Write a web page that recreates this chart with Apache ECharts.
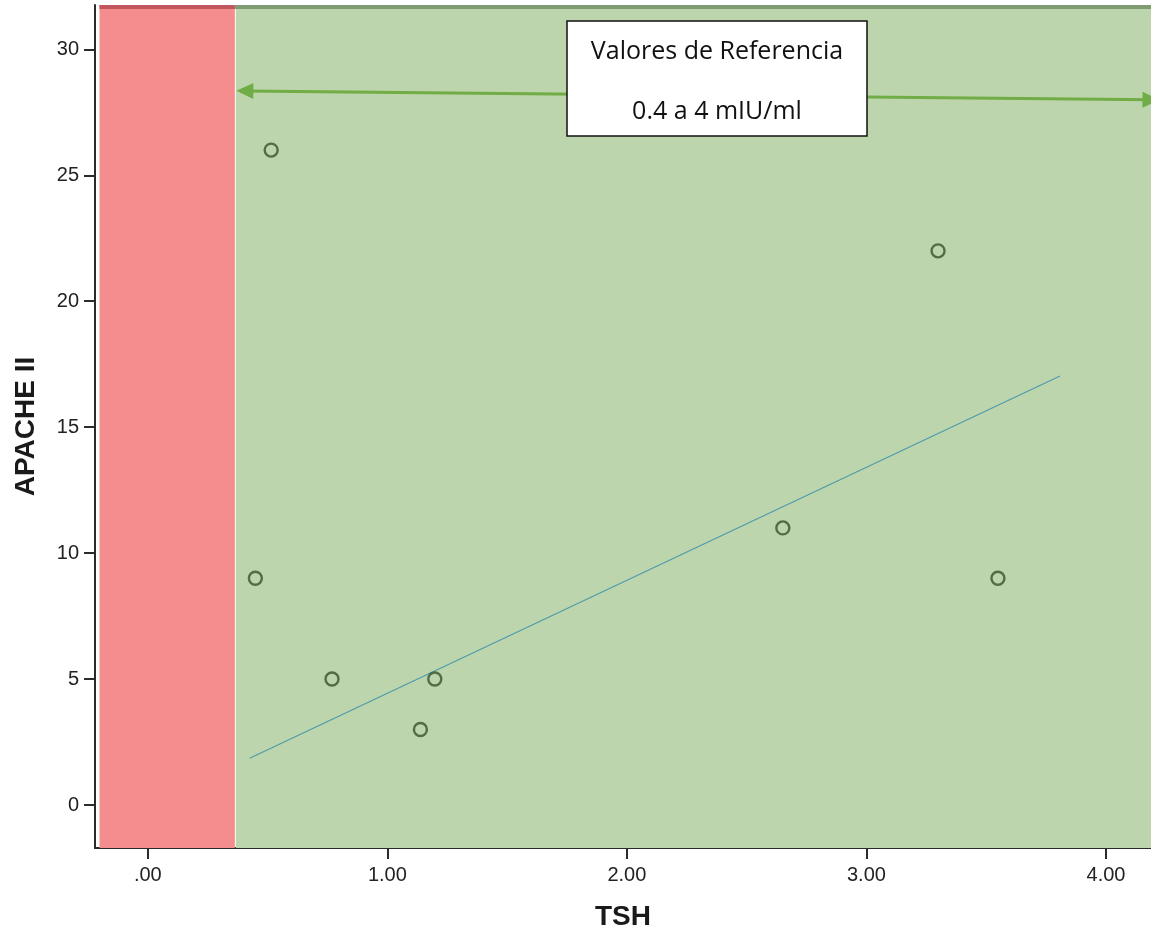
<!DOCTYPE html>
<html>
<head>
<meta charset="utf-8">
<script src="https://cdn.jsdelivr.net/npm/echarts@6/dist/echarts.min.js"></script>
<style>
  html, body { margin: 0; padding: 0; background: #ffffff; }
  #chart { width: 1151px; height: 934px; }
</style>
</head>
<body>
<div id="chart"></div>
<script>
// TSH vs APACHE II scatter, with the reference range shaded
const tshValues = [0.515, 0.449, 0.769, 1.138, 1.198, 2.651, 3.299, 3.549];
const apacheValues = [26, 9, 5, 3, 5, 11, 22, 9];

// Fit line end points (TSH, APACHE II)
const fitLineX = [0.425, 3.808];
const fitLineY = [1.854, 17.03];

const xTicks = [0, 1, 2, 3, 4];
const yTicks = [0, 5, 10, 15, 20, 25, 30];

// Axis extents
const xRange = [-0.2205, 4.188];
const yRange = [-1.707, 31.76];

// Shaded bands along TSH
const lowBand = [-0.2017, 0.3634];
const refBand = [0.3676, 4.188];

// Reference-range arrow (TSH, APACHE II at each end)
const arrowStart = [0.405, 28.35];
const arrowEnd = [4.188, 28.0];

const refTitle = 'Valores de Referencia';
const refRange = '0.4 a 4 mIU/ml';

const points = tshValues.map((x, i) => [x, apacheValues[i]]);
const fitLine = fitLineX.map((x, i) => [x, fitLineY[i]]);

const chart = echarts.init(document.getElementById('chart'), null, { renderer: 'canvas' });

const axisFont = 'Liberation Sans, Arial, sans-serif';
const boxFont = 'Open Sans, Lato, sans-serif';

chart.setOption({
  animation: false,
  backgroundColor: '#ffffff',
  grid: { left: 95, right: 0, top: 5, bottom: 86, containLabel: false, outerBoundsMode: 'none' },
  xAxis: {
    type: 'value',
    min: xRange[0],
    max: xRange[1],
    name: 'TSH',
    nameLocation: 'middle',
    nameGap: 55,
    nameTextStyle: { fontFamily: axisFont, fontSize: 28, fontWeight: 'bold', color: '#1a1a1a' },
    axisLine: { show: true, onZero: false, lineStyle: { color: '#2b2b2b', width: 2 } },
    axisTick: { show: true, length: 11, customValues: xTicks, lineStyle: { color: '#2b2b2b', width: 2 } },
    axisLabel: {
      customValues: xTicks,
      margin: 17,
      fontFamily: axisFont,
      fontSize: 20,
      color: '#222',
      formatter: v => v.toFixed(2).replace(/^0/, '')
    },
    splitLine: { show: false }
  },
  yAxis: {
    type: 'value',
    min: yRange[0],
    max: yRange[1],
    name: 'APACHE II',
    nameLocation: 'middle',
    nameGap: 55,
    nameRotate: 90,
    nameTextStyle: { fontFamily: axisFont, fontSize: 28, fontWeight: 'bold', color: '#1a1a1a' },
    axisLine: { show: true, onZero: false, lineStyle: { color: '#2b2b2b', width: 2 } },
    axisTick: { show: true, length: 11, customValues: yTicks, lineStyle: { color: '#2b2b2b', width: 2 } },
    axisLabel: {
      customValues: yTicks,
      margin: 16,
      fontFamily: axisFont,
      fontSize: 20,
      color: '#222'
    },
    splitLine: { show: false }
  },
  series: [
    {
      // background bands, top rim and the reference-range arrow
      type: 'line',
      data: [],
      silent: true,
      z: 1,
      markArea: {
        silent: true,
        data: [
          [{ xAxis: lowBand[0], itemStyle: { color: '#f58d8f' } }, { xAxis: lowBand[1] }],
          [{ xAxis: refBand[0], itemStyle: { color: '#bdd5ad' } }, { xAxis: refBand[1] }],
          [{ xAxis: lowBand[0], yAxis: 31.6, itemStyle: { color: '#c3555e' } }, { xAxis: lowBand[1], yAxis: yRange[1] }],
          [{ xAxis: lowBand[1], yAxis: 31.6, itemStyle: { color: '#7f9b72' } }, { xAxis: refBand[1], yAxis: yRange[1] }]
        ]
      },
      markLine: {
        silent: true,
        symbol: ['triangle', 'triangle'],
        symbolSize: [16, 17],
        label: { show: false },
        lineStyle: { color: '#70ad47', width: 3, type: 'solid' },
        data: [
          [{ coord: arrowStart }, { coord: arrowEnd }]
        ]
      }
    },
    {
      name: 'Fit',
      type: 'line',
      data: fitLine,
      showSymbol: false,
      symbol: 'none',
      z: 3,
      lineStyle: { color: '#4e9bab', width: 1.2 }
    },
    {
      name: 'APACHE II',
      type: 'scatter',
      data: points,
      symbol: 'circle',
      symbolSize: 13,
      z: 4,
      itemStyle: { color: 'rgba(0,0,0,0)', borderColor: '#37512d', borderWidth: 2.4 }
    }
  ]
});

// Reference-range caption box
chart.setOption({
  graphic: {
    elements: [
      {
        id: 'refBox',
        type: 'rect',
        z: 100,
        shape: { x: 567, y: 21, width: 300, height: 115 },
        style: { fill: '#ffffff', stroke: '#111111', lineWidth: 1.5 }
      },
      {
        id: 'refTitle',
        type: 'text',
        z: 101,
        x: 717,
        y: 52,
        style: {
          text: refTitle,
          font: '25px ' + boxFont,
          fill: '#111',
          align: 'center',
          verticalAlign: 'middle'
        }
      },
      {
        id: 'refRange',
        type: 'text',
        z: 101,
        x: 717,
        y: 112,
        style: {
          text: refRange,
          font: '25px ' + boxFont,
          fill: '#111',
          align: 'center',
          verticalAlign: 'middle'
        }
      }
    ]
  }
});
</script>
</body>
</html>
